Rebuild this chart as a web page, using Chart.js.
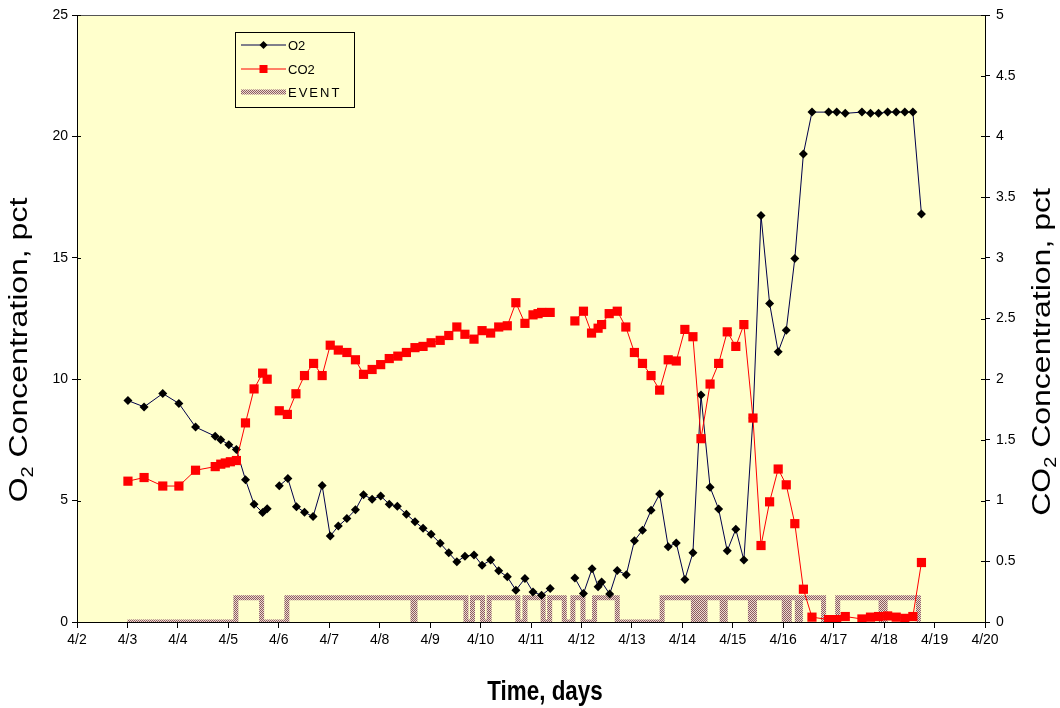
<!DOCTYPE html>
<html>
<head>
<meta charset="utf-8">
<title>O2 / CO2 concentration</title>
<script src="https://cdn.jsdelivr.net/npm/chart.js"></script>
<style>
    html, body { margin: 0; padding: 0; background: #ffffff; }
    #gasChart { display: block; }
</style>
</head>
<body>
<canvas id="gasChart" width="1060" height="708"></canvas>
<script>
// Eixo X: dias de abril
const xTickValues = [2, 3, 4, 5, 6, 7, 8, 9, 10, 11, 12, 13, 14, 15, 16, 17, 18, 19, 20];
const xTickLabels = ['4/2', '4/3', '4/4', '4/5', '4/6', '4/7', '4/8', '4/9', '4/10', '4/11',
    '4/12', '4/13', '4/14', '4/15', '4/16', '4/17', '4/18', '4/19', '4/20'];
const rightTickLabels = ['0', '0.5', '1', '1.5', '2', '2.5', '3', '3.5', '4', '4.5', '5'];

// O2 (pct) - null = gap in the record
const o2Days = [3.01, 3.33, 3.70, 4.02, 4.35, 4.74, 4.85, 5.01, 5.16, 5.34,
    5.51, 5.68, 5.77, 5.90, 6.01, 6.18, 6.35, 6.51, 6.68, 6.86,
    7.02, 7.18, 7.35, 7.52, 7.68, 7.85, 8.02, 8.19, 8.35, 8.53,
    8.70, 8.86, 9.02, 9.20, 9.37, 9.53, 9.69, 9.87, 10.03, 10.20,
    10.36, 10.53, 10.70, 10.88, 11.04, 11.21, 11.38, 11.60, 11.87, 12.04,
    12.21, 12.33, 12.40, 12.56, 12.71, 12.89, 13.05, 13.21, 13.38, 13.55,
    13.72, 13.88, 14.05, 14.21, 14.37, 14.55, 14.72, 14.89, 15.06, 15.22,
    15.40, 15.56, 15.73, 15.90, 16.06, 16.23, 16.40, 16.57, 16.90, 17.06,
    17.23, 17.56, 17.73, 17.89, 18.07, 18.24, 18.41, 18.57, 18.74];
const o2Values = [9.12, 8.86, 9.41, 9.00, 8.03, 7.65, 7.51, 7.30, 7.10, 5.86,
    4.85, 4.51, 4.66, null, 5.61, 5.91, 4.75, 4.52, 4.34, 5.62,
    3.54, 3.95, 4.26, 4.62, 5.24, 5.06, 5.19, 4.85, 4.77, 4.44,
    4.13, 3.86, 3.61, 3.24, 2.85, 2.48, 2.71, 2.76, 2.34, 2.55,
    2.11, 1.86, 1.31, 1.79, 1.24, 1.10, 1.38, null, 1.81, 1.17,
    2.19, 1.45, 1.65, 1.15, 2.12, 1.95, 3.35, 3.78, 4.60, 5.27,
    3.10, 3.25, 1.75, 2.85, 9.35, 5.55, 4.65, 2.93, 3.82, 2.55,
    8.4, 16.74, 13.12, 11.13, 12.02, 14.97, 19.28, 21.0, 21.0, 21.0,
    20.95, 21.0, 20.95, 20.95, 21.0, 21.0, 21.0, 21.0, 16.8];

// CO2 (pct)
const co2Days = [3.01, 3.33, 3.70, 4.02, 4.35, 4.74, 4.85, 4.94, 5.04, 5.16,
    5.34, 5.51, 5.68, 5.77, 5.90, 6.01, 6.17, 6.34, 6.51, 6.69,
    6.86, 7.02, 7.18, 7.35, 7.52, 7.68, 7.85, 8.02, 8.19, 8.36,
    8.53, 8.70, 8.86, 9.02, 9.20, 9.37, 9.53, 9.69, 9.87, 10.03,
    10.20, 10.36, 10.53, 10.70, 10.88, 11.04, 11.14, 11.21, 11.38, 11.60,
    11.87, 12.04, 12.20, 12.33, 12.40, 12.55, 12.71, 12.88, 13.05, 13.21,
    13.38, 13.55, 13.72, 13.88, 14.05, 14.21, 14.37, 14.55, 14.72, 14.89,
    15.06, 15.22, 15.40, 15.56, 15.73, 15.90, 16.06, 16.23, 16.40, 16.57,
    16.90, 17.06, 17.23, 17.56, 17.73, 17.89, 18.07, 18.24, 18.41, 18.57,
    18.74];
const co2Values = [1.16, 1.19, 1.12, 1.12, 1.25, 1.28, 1.30, 1.31, 1.32, 1.33,
    1.64, 1.92, 2.05, 2.00, null, 1.74, 1.71, 1.88, 2.03, 2.13,
    2.03, 2.28, 2.24, 2.22, 2.16, 2.04, 2.08, 2.12, 2.17, 2.19,
    2.22, 2.26, 2.27, 2.30, 2.32, 2.36, 2.43, 2.37, 2.33, 2.40,
    2.38, 2.43, 2.44, 2.63, 2.46, 2.53, 2.54, 2.55, 2.55, null,
    2.48, 2.56, 2.38, 2.42, 2.45, 2.54, 2.56, 2.43, 2.22, 2.13,
    2.03, 1.91, 2.16, 2.15, 2.41, 2.35, 1.51, 1.96, 2.13, 2.39,
    2.27, 2.45, 1.68, 0.63, 0.99, 1.26, 1.13, 0.81, 0.27, 0.04,
    0.02, 0.02, 0.045, 0.025, 0.04, 0.045, 0.05, 0.04, 0.03, 0.045,
    0.49];

// EVENT: on/off switch points (value holds from that day on)
const eventDays = [3.00, 5.15, 5.66, 6.16, 8.66, 8.70, 9.71, 9.84, 10.04, 10.17,
    10.74, 10.88, 11.24, 11.37, 11.66, 11.83, 12.03, 12.26, 12.71, 13.60,
    14.22, 14.29, 14.39, 14.45, 14.79, 14.85, 15.35, 15.43, 16.02, 16.12,
    16.28, 16.34, 16.80, 17.08, 17.94, 18.02, 18.68];
const eventValues = [0, 1, 0, 1, 0, 1, 0, 1, 0, 1,
    0, 1, 0, 1, 0, 1, 0, 1, 0, 1,
    0, 1, 0, 1, 0, 1, 0, 1, 0, 1,
    0, 1, 0, 1, 0, 1, 0];

const PLOT_BG = '#ffffcc';
const O2_LINE = '#00004a';
const CO2_RED = '#ff0000';

// Padrão quadriculado da linha EVENT
function eventPattern(ctx) {
    const c = document.createElement('canvas');
    c.width = 2;
    c.height = 2;
    const g = c.getContext('2d');
    g.fillStyle = '#eed9cf';
    g.fillRect(0, 0, 2, 2);
    g.fillStyle = '#8a5c60';
    g.fillRect(0, 0, 1, 1);
    g.fillRect(1, 1, 1, 1);
    return ctx.createPattern(c, 'repeat');
}

function toPoints(days, values) {
    return days.map((d, i) => ({ x: d, y: values[i] }));
}

// Texto com subscrito (ex.: O2), opcionalmente rodado e comprimido
function drawTitle(ctx, parts, size, weight, cx, cy, angle, sx, sy) {
    ctx.save();
    ctx.translate(cx, cy);
    ctx.rotate(angle);
    ctx.scale(sx, sy);
    ctx.fillStyle = '#000';
    ctx.textBaseline = 'alphabetic';
    ctx.textAlign = 'left';
    const fontFor = sub => weight + ' ' + (sub ? Math.round(size * 0.62) : size) + 'px Arial, "Liberation Sans", sans-serif';
    let total = 0;
    parts.forEach(p => {
        ctx.font = fontFor(p[1]);
        total += ctx.measureText(p[0]).width;
    });
    let x = -total / 2;
    parts.forEach(p => {
        ctx.font = fontFor(p[1]);
        ctx.fillText(p[0], x, p[1] ? size * 0.22 : 0);
        x += ctx.measureText(p[0]).width;
    });
    ctx.restore();
}

// Fundo amarelo da área do gráfico + borda superior
const plotBackground = {
    id: 'plotBackground',
    beforeDraw(chart) {
        const { ctx, chartArea } = chart;
        ctx.save();
        ctx.fillStyle = PLOT_BG;
        ctx.fillRect(chartArea.left, chartArea.top, chartArea.right - chartArea.left, chartArea.bottom - chartArea.top);
        ctx.strokeStyle = '#555555';
        ctx.lineWidth = 1;
        ctx.beginPath();
        ctx.moveTo(chartArea.left, chartArea.top + 0.5);
        ctx.lineTo(chartArea.right, chartArea.top + 0.5);
        ctx.stroke();
        ctx.restore();
    }
};

// Marcas de escala cruzando os eixos Y (parte interna)
const innerTicks = {
    id: 'innerTicks',
    afterDraw(chart) {
        const { ctx, chartArea, scales } = chart;
        ctx.save();
        ctx.strokeStyle = '#000';
        ctx.lineWidth = 1;
        ctx.beginPath();
        scales.y.ticks.forEach(t => {
            const py = Math.round(scales.y.getPixelForValue(t.value)) + 0.5;
            ctx.moveTo(chartArea.left, py);
            ctx.lineTo(chartArea.left + 4, py);
        });
        scales.y1.ticks.forEach(t => {
            const py = Math.round(scales.y1.getPixelForValue(t.value)) + 0.5;
            ctx.moveTo(chartArea.right, py);
            ctx.lineTo(chartArea.right - 4, py);
        });
        ctx.stroke();
        ctx.restore();
    }
};

// Títulos dos eixos
const axisTitles = {
    id: 'axisTitles',
    afterDraw(chart) {
        const ctx = chart.ctx;
        drawTitle(ctx, [['O', false], ['2', true], [' Concentration, pct', false]],
            32, 'normal', 27, 350, -Math.PI / 2, 1, 0.8);
        drawTitle(ctx, [['CO', false], ['2', true], [' Concentration, pct', false]],
            32, 'normal', 1050, 352, -Math.PI / 2, 1, 0.8);
        drawTitle(ctx, [['Time, days', false]], 28, 'bold', 545, 700, 0, 0.8, 1);
    }
};

// Legenda dentro da área do gráfico
const legendBox = {
    id: 'legendBox',
    afterDraw(chart) {
        const ctx = chart.ctx;
        const ds = chart.data.datasets;
        const box = { x: 235.5, y: 32.5, w: 119, h: 75 };
        ctx.save();
        ctx.fillStyle = PLOT_BG;
        ctx.fillRect(box.x, box.y, box.w, box.h);
        ctx.strokeStyle = '#000';
        ctx.lineWidth = 1;
        ctx.strokeRect(box.x, box.y, box.w, box.h);

        const rows = [45, 69, 92];
        const x0 = 241;
        const x1 = 286;
        const xm = (x0 + x1) / 2;
        ds.forEach((d, i) => {
            const y = rows[i];
            ctx.strokeStyle = d.borderColor;
            ctx.lineWidth = d.borderWidth;
            ctx.beginPath();
            ctx.moveTo(x0, y);
            ctx.lineTo(x1, y);
            ctx.stroke();
            if (d.pointStyle === 'rectRot') {
                ctx.fillStyle = d.pointBackgroundColor;
                ctx.beginPath();
                ctx.moveTo(xm - 4, y);
                ctx.lineTo(xm, y - 4);
                ctx.lineTo(xm + 4, y);
                ctx.lineTo(xm, y + 4);
                ctx.closePath();
                ctx.fill();
            } else if (d.pointStyle === 'rect') {
                ctx.fillStyle = d.pointBackgroundColor;
                ctx.fillRect(xm - 4, y - 4, 8, 8);
            }
            ctx.fillStyle = '#000';
            ctx.font = '13px Arial, "Liberation Sans", sans-serif';
            ctx.textBaseline = 'middle';
            ctx.letterSpacing = d.label === 'EVENT' ? '2px' : '0px';
            ctx.fillText(d.label, x1 + 2, y + 1);
        });
        ctx.restore();
    }
};

function initChart() {
    const gasCtx = document.getElementById('gasChart').getContext('2d');
    const tickFont = { family: 'Arial, "Liberation Sans", sans-serif', size: 14 };

    const gasChart = new Chart(gasCtx, {
        type: 'line',
        data: {
            datasets: [
                {
                    label: 'O2',
                    data: toPoints(o2Days, o2Values),
                    borderColor: O2_LINE,
                    borderWidth: 1,
                    pointStyle: 'rectRot',
                    pointRadius: 4.5,
                    pointBackgroundColor: '#000000',
                    pointBorderColor: '#000000',
                    pointBorderWidth: 0,
                    yAxisID: 'y',
                    order: 2
                },
                {
                    label: 'CO2',
                    data: toPoints(co2Days, co2Values),
                    borderColor: CO2_RED,
                    borderWidth: 1,
                    pointStyle: 'rect',
                    pointRadius: 6.5,
                    pointBackgroundColor: CO2_RED,
                    pointBorderColor: CO2_RED,
                    pointBorderWidth: 0,
                    yAxisID: 'y1',
                    order: 1
                },
                {
                    label: 'EVENT',
                    data: toPoints(eventDays, eventValues),
                    borderColor: eventPattern(gasCtx),
                    borderWidth: 5,
                    stepped: true,
                    pointRadius: 0,
                    borderJoinStyle: 'miter',
                    borderCapStyle: 'butt',
                    yAxisID: 'y',
                    order: 3
                }
            ]
        },
        options: {
            responsive: false,
            animation: false,
            spanGaps: false,
            layout: {
                padding: { top: 15, left: 0, right: 0, bottom: 0 }
            },
            plugins: {
                legend: { display: false },
                tooltip: { enabled: false }
            },
            scales: {
                x: {
                    type: 'linear',
                    min: xTickValues[0],
                    max: xTickValues[xTickValues.length - 1],
                    afterBuildTicks: function(scale) {
                        scale.ticks = xTickValues.map(v => ({ value: v }));
                    },
                    ticks: {
                        autoSkip: false,
                        maxRotation: 0,
                        padding: 4,
                        color: '#000',
                        font: tickFont,
                        callback: function(value) {
                            return xTickLabels[xTickValues.indexOf(value)];
                        }
                    },
                    grid: {
                        drawOnChartArea: false,
                        drawTicks: true,
                        tickLength: 6,
                        color: '#000'
                    },
                    border: { color: '#000', width: 1 },
                    afterFit: function(scale) {
                        scale.height = 86;
                    }
                },
                y: {
                    position: 'left',
                    min: 0,
                    max: 25,
                    ticks: {
                        stepSize: 5,
                        padding: 4,
                        color: '#000',
                        font: tickFont
                    },
                    grid: {
                        drawOnChartArea: false,
                        tickLength: 5,
                        color: '#000'
                    },
                    border: { color: '#000', width: 1 },
                    afterFit: function(scale) {
                        scale.width = 77;
                    }
                },
                y1: {
                    position: 'right',
                    min: 0,
                    max: 5,
                    ticks: {
                        stepSize: 0.5,
                        padding: 6,
                        color: '#000',
                        font: tickFont,
                        callback: function(value, index) {
                            return rightTickLabels[index];
                        }
                    },
                    grid: {
                        drawOnChartArea: false,
                        tickLength: 5,
                        color: '#000'
                    },
                    border: { color: '#000', width: 1 },
                    afterFit: function(scale) {
                        scale.width = 75;
                    }
                }
            }
        },
        plugins: [plotBackground, innerTicks, axisTitles, legendBox]
    });
    return gasChart;
}

document.addEventListener('DOMContentLoaded', function() {
    initChart();
});
</script>
</body>
</html>
